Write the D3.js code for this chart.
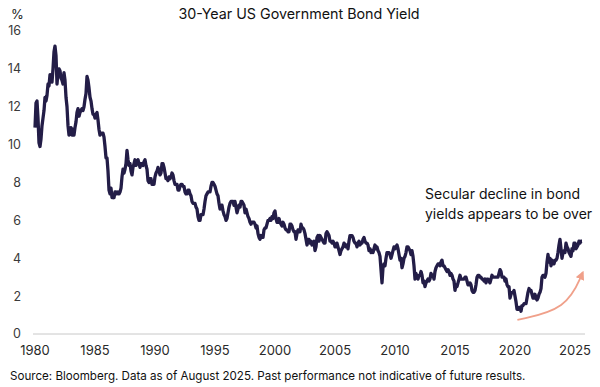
<!DOCTYPE html>
<html>
<head>
<meta charset="utf-8">
<script src="https://cdn.jsdelivr.net/npm/d3@7"></script>
<style>
  body { margin: 0; background: #fff; }
  svg { display: block; font-family: Inter, "Noto Sans", sans-serif; }
</style>
</head>
<body>
<div id="chart"></div>
<script>

// monthly 30-year yields, one row per year starting Jan 1980
var startYear = 1980;
var yields = [
  [10.9, 12.2, 12.3, 11.4, 10.1, 9.9, 10.3, 11.0, 11.4, 11.8, 12.5, 12.3],   // 1980
  [12.6, 13.2, 13.1, 13.7, 13.5, 13.3, 14.0, 14.9, 15.2, 14.7, 13.2, 13.8],  // 1981
  [14.0, 13.9, 13.5, 13.4, 13.2, 13.8, 13.4, 12.5, 12.0, 11.0, 10.5, 10.6],  // 1982
  [10.9, 10.5, 10.8, 10.5, 10.9, 11.2, 11.7, 11.9, 11.5, 11.7, 11.8, 11.9],  // 1983
  [11.8, 12.0, 12.4, 12.7, 13.6, 13.4, 13.0, 12.5, 12.3, 11.9, 11.6, 11.6],  // 1984
  [11.4, 11.6, 11.7, 11.3, 10.8, 10.5, 10.6, 10.6, 10.6, 10.4, 9.9, 9.3],    // 1985
  [9.3, 8.6, 7.6, 7.4, 7.7, 7.2, 7.3, 7.2, 7.5, 7.5, 7.4, 7.5],              // 1986
  [7.4, 7.5, 7.7, 8.3, 8.7, 8.5, 8.7, 9.0, 9.7, 9.2, 8.9, 9.0],              // 1987
  [8.6, 8.4, 8.8, 9.0, 9.2, 8.9, 9.1, 9.2, 9.0, 8.8, 9.0, 9.0],              // 1988
  [8.9, 9.1, 9.2, 8.9, 8.7, 8.1, 8.0, 8.2, 8.2, 7.9, 7.9, 7.9],              // 1989
  [8.3, 8.5, 8.6, 8.8, 8.6, 8.4, 8.5, 9.0, 9.0, 8.8, 8.5, 8.2],              // 1990
  [8.2, 8.1, 8.3, 8.2, 8.3, 8.5, 8.4, 8.1, 7.9, 7.9, 7.9, 7.6],              // 1991
  [7.6, 7.8, 7.9, 7.9, 7.8, 7.8, 7.5, 7.4, 7.4, 7.6, 7.6, 7.4],              // 1992
  [7.3, 7.0, 6.9, 6.9, 6.9, 6.7, 6.6, 6.2, 6.0, 6.0, 6.3, 6.3],              // 1993
  [6.3, 6.6, 7.0, 7.3, 7.4, 7.5, 7.5, 7.5, 7.8, 8.0, 8.0, 7.9],              // 1994
  [7.8, 7.6, 7.4, 7.3, 6.9, 6.6, 6.8, 6.8, 6.5, 6.3, 6.2, 6.0],              // 1995
  [6.1, 6.4, 6.7, 6.9, 7.0, 7.0, 7.0, 6.8, 7.0, 6.7, 6.4, 6.6],              // 1996
  [6.8, 6.7, 7.0, 7.0, 6.9, 6.8, 6.4, 6.6, 6.4, 6.2, 6.1, 5.9],              // 1997
  [5.8, 5.9, 5.9, 5.9, 5.8, 5.6, 5.7, 5.3, 5.1, 5.0, 5.2, 5.1],              // 1998
  [5.1, 5.5, 5.6, 5.6, 5.8, 6.0, 6.0, 6.1, 6.0, 6.2, 6.1, 6.4],              // 1999
  [6.5, 6.1, 5.9, 5.9, 6.1, 5.9, 5.8, 5.7, 5.9, 5.8, 5.6, 5.5],              // 2000
  [5.5, 5.4, 5.4, 5.8, 5.8, 5.7, 5.5, 5.4, 5.4, 5.0, 5.3, 5.5],              // 2001
  [5.4, 5.4, 5.8, 5.6, 5.6, 5.5, 5.3, 5.0, 4.7, 5.0, 5.0, 4.8],              // 2002
  [4.9, 4.7, 4.8, 4.9, 4.4, 4.6, 5.1, 5.2, 4.9, 5.2, 5.1, 5.0],              // 2003
  [4.9, 4.8, 4.8, 5.3, 5.4, 5.3, 5.2, 4.9, 4.9, 4.8, 4.9, 4.8],              // 2004
  [4.6, 4.6, 4.8, 4.6, 4.4, 4.2, 4.4, 4.5, 4.6, 4.8, 4.7, 4.6],              // 2005
  [4.7, 4.5, 4.9, 5.2, 5.2, 5.2, 5.1, 4.9, 4.8, 4.8, 4.6, 4.8],              // 2006
  [4.9, 4.7, 4.8, 4.8, 5.0, 5.1, 4.9, 4.8, 4.8, 4.7, 4.4, 4.5],              // 2007
  [4.3, 4.4, 4.3, 4.5, 4.7, 4.5, 4.6, 4.4, 4.3, 4.1, 3.4, 2.7],              // 2008
  [3.5, 3.7, 3.6, 4.0, 4.3, 4.3, 4.3, 4.2, 4.0, 4.2, 4.4, 4.6],              // 2009
  [4.5, 4.6, 4.7, 4.5, 4.2, 3.9, 4.0, 3.5, 3.7, 4.0, 4.1, 4.3],              // 2010
  [4.6, 4.6, 4.5, 4.4, 4.2, 4.4, 4.1, 3.6, 2.9, 3.2, 3.0, 2.9],              // 2011
  [3.1, 3.1, 3.3, 3.1, 2.7, 2.8, 2.5, 2.7, 2.8, 2.9, 2.8, 2.9],              // 2012
  [3.2, 3.1, 3.1, 2.9, 3.3, 3.5, 3.6, 3.7, 3.7, 3.6, 3.8, 3.9],              // 2013
  [3.6, 3.6, 3.5, 3.4, 3.3, 3.4, 3.3, 3.1, 3.2, 3.1, 2.9, 2.8],              // 2014
  [2.3, 2.6, 2.5, 2.7, 2.9, 3.1, 2.9, 2.9, 2.9, 2.9, 3.0, 3.0],              // 2015
  [2.8, 2.6, 2.6, 2.7, 2.6, 2.3, 2.2, 2.2, 2.3, 2.6, 3.0, 3.1],              // 2016
  [3.1, 3.0, 3.0, 2.9, 2.9, 2.8, 2.9, 2.7, 2.9, 2.9, 2.8, 2.7],              // 2017
  [2.9, 3.1, 3.0, 3.0, 3.0, 3.0, 3.0, 3.0, 3.2, 3.4, 3.3, 3.0],              // 2018
  [3.0, 3.0, 2.8, 2.9, 2.6, 2.5, 2.5, 1.9, 2.1, 2.2, 2.2, 2.3],              // 2019
  [2.0, 1.7, 1.3, 1.3, 1.4, 1.4, 1.2, 1.5, 1.5, 1.6, 1.6, 1.6],              // 2020
  [1.9, 2.2, 2.4, 2.3, 2.3, 2.1, 1.9, 1.9, 2.1, 1.9, 1.8, 1.9],              // 2021
  [2.1, 2.2, 2.4, 3.0, 3.1, 3.1, 3.0, 3.2, 3.8, 4.2, 3.8, 4.0],              // 2022
  [3.6, 3.9, 3.7, 3.7, 3.9, 3.9, 4.0, 4.3, 4.7, 5.0, 4.5, 4.0],              // 2023
  [4.3, 4.4, 4.3, 4.8, 4.6, 4.5, 4.3, 4.2, 4.1, 4.5, 4.4, 4.8],              // 2024
  [4.8, 4.5, 4.6, 4.7, 4.9, 4.8, 4.9, 4.9]                                   // 2025
];

var yTicks = [0, 2, 4, 6, 8, 10, 12, 14, 16];
var xTicks = [1980, 1985, 1990, 1995, 2000, 2005, 2010, 2015, 2020, 2025];

// arrow path in data units: start, bend, end
var arrowPts = [[2020.2, 0.75], [2024.3, 1.3], [2025.65, 3.25]];

var titleText = "30-Year US Government Bond Yield";
var noteLines = ["Secular decline in bond", "yields appears to be over"];
var sourceText = "Source: Bloomberg. Data as of August 2025. Past performance not indicative of future results.";

var W = 600, H = 387;

var series = [];
yields.forEach(function(row, i) {
  row.forEach(function(v, m) {
    series.push({t: startYear + i + m / 12, v: v});
  });
});

var svg = d3.select("#chart").append("svg")
  .attr("width", W)
  .attr("height", H);

var x = d3.scaleLinear().domain([1980, 2025]).range([35, 575]);
var y = d3.scaleLinear().domain([0, 16]).range([334, 31]);

// baseline
svg.append("line")
  .attr("x1", 33).attr("x2", 585)
  .attr("y1", y(0)).attr("y2", y(0))
  .attr("stroke", "#c8c8c8")
  .attr("stroke-width", 1);

// y tick labels
svg.selectAll(".ylab")
  .data(yTicks)
  .enter().append("text")
    .attr("class", "ylab")
    .attr("x", 21)
    .attr("y", function(d) { return y(d); })
    .attr("dy", "0.35em")
    .attr("text-anchor", "end")
    .attr("font-size", 12.5)
    .attr("fill", "#3a3a3a")
    .text(function(d) { return d; });

svg.append("text")
  .attr("x", 11).attr("y", 19)
  .attr("font-size", 13)
  .attr("fill", "#222")
  .text("%");

// x tick labels
svg.selectAll(".xlab")
  .data(xTicks)
  .enter().append("text")
    .attr("class", "xlab")
    .attr("x", function(d) { return x(d); })
    .attr("y", 355)
    .attr("text-anchor", "middle")
    .attr("font-size", 13)
    .attr("fill", "#2a2a2a")
    .text(function(d) { return d; });

// yield line
var line = d3.line()
  .x(function(d) { return x(d.t); })
  .y(function(d) { return y(d.v); })
  .curve(d3.curveLinear);

svg.append("path")
  .datum(series)
  .attr("d", line)
  .attr("fill", "none")
  .attr("stroke", "#231d47")
  .attr("stroke-width", 3.3)
  .attr("stroke-linejoin", "round");

// arrow
svg.append("defs").append("marker")
  .attr("id", "head")
  .attr("viewBox", "0 0 10 10")
  .attr("refX", 8).attr("refY", 5)
  .attr("markerWidth", 5).attr("markerHeight", 5)
  .attr("orient", "auto")
  .append("path")
    .attr("d", "M0,0 L10,5 L0,10 Z")
    .attr("fill", "#f0a08a");

var arrowLine = d3.line()
  .x(function(d) { return x(d[0]); })
  .y(function(d) { return y(d[1]); })
  .curve(d3.curveBundle.beta(1));

svg.append("path")
  .datum(arrowPts)
  .attr("d", arrowLine)
  .attr("fill", "none")
  .attr("stroke", "#f0a08a")
  .attr("stroke-width", 1.8)
  .attr("marker-end", "url(#head)");

// title
svg.append("text")
  .attr("x", 299).attr("y", 19)
  .attr("text-anchor", "middle")
  .attr("font-size", 14.3)
  .attr("fill", "#111")
  .text(titleText);

// annotation
svg.selectAll(".note")
  .data(noteLines)
  .enter().append("text")
    .attr("class", "note")
    .attr("x", 425)
    .attr("y", function(d, i) { return 199 + i * 20; })
    .attr("font-size", 14)
    .attr("fill", "#111")
    .text(function(d) { return d; });

// source
svg.append("text")
  .attr("x", 10).attr("y", 380)
  .attr("font-size", 11.6)
  .attr("fill", "#111")
  .text(sourceText);

</script>
</body>
</html>
